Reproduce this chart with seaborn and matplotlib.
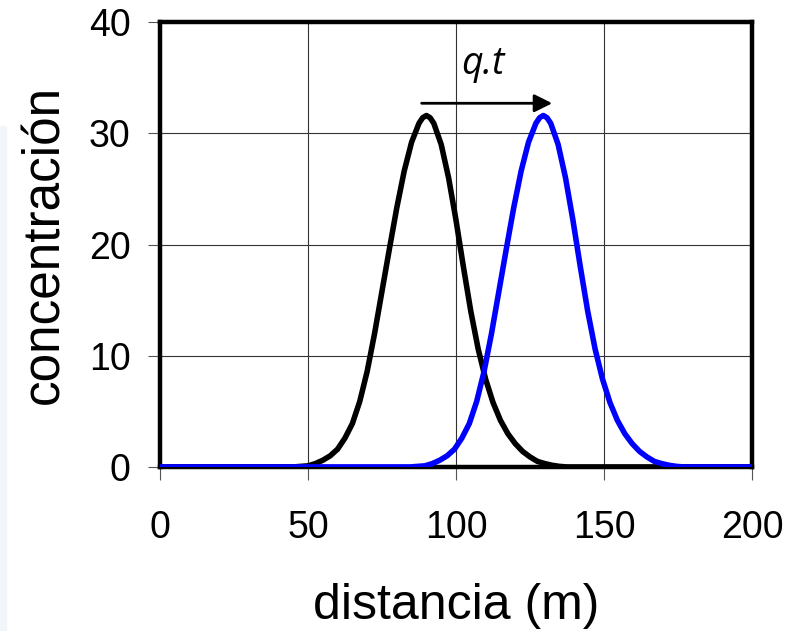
import matplotlib
matplotlib.use("Agg")
import matplotlib.pyplot as plt
import matplotlib.patches as mpatches
import pandas as pd
import seaborn as sns

# Concentration profiles (distance in m)
x_inicial = [0, 45, 47.5, 50, 52.5, 55, 57.5, 60, 62.5, 65, 67.5, 70, 72.5, 75,
             77.5, 80, 82.5, 85, 87.5, 88.75, 90, 91.25, 92.5, 95, 97.5, 100,
             102.5, 105, 107.5, 110, 112.5, 115, 117.5, 120, 122.5, 125, 127.5,
             130, 132.5, 135, 137.5, 200]
c_inicial = [0, 0, 0.05, 0.1, 0.3, 0.6, 1.0, 1.6, 2.6, 3.9, 5.9, 8.6, 12.0, 15.8,
             19.6, 23.3, 26.6, 29.2, 30.9, 31.4, 31.6, 31.4, 30.9, 29.0, 26.0, 22.2,
             18.0, 14.0, 10.6, 7.9, 5.8, 4.2, 3.0, 2.1, 1.4, 0.9, 0.5,
             0.3, 0.15, 0.05, 0, 0]

x_final = [0, 84.5, 87, 89.5, 92, 94.5, 97, 99.5, 102, 104.5, 107, 109.5, 112,
           114.5, 117, 119.5, 122, 124.5, 127, 128.25, 129.5, 130.75, 132,
           134.5, 137, 139.5, 142, 144.5, 147, 149.5, 152, 154.5, 157, 159.5,
           162, 164.5, 167, 169.5, 172, 174.5, 177, 200]
c_final = [0, 0, 0.05, 0.1, 0.3, 0.6, 1.0, 1.6, 2.6, 3.9, 5.9, 8.6, 12.0,
           15.8, 19.6, 23.3, 26.6, 29.2, 30.9, 31.4, 31.6, 31.4, 30.9,
           29.0, 26.0, 22.2, 18.0, 14.0, 10.6, 7.9, 5.8, 4.2, 3.0, 2.1,
           1.4, 0.9, 0.5, 0.3, 0.15, 0.05, 0, 0]

x_ticks = [0, 50, 100, 150, 200]
y_ticks = [0, 10, 20, 30, 40]

df_ini = pd.DataFrame({"distancia": x_inicial, "concentracion": c_inicial})
df_fin = pd.DataFrame({"distancia": x_final, "concentracion": c_final})

sns.set_theme(style="white")
plt.rcParams["font.family"] = ["Liberation Sans", "DejaVu Sans"]

fig = plt.figure(figsize=(7.9, 6.31), dpi=100)
fig.patches.append(mpatches.Rectangle((0, 0), 0.007, 0.8, transform=fig.transFigure,
                                      color="#f2f5fa", zorder=0))
ax = fig.add_axes([0.2025, 0.26, 0.7494, 0.705])

sns.lineplot(data=df_ini, x="distancia", y="concentracion", ax=ax, color="black",
             linewidth=4, sort=False, estimator=None, zorder=3)
sns.lineplot(data=df_fin, x="distancia", y="concentracion", ax=ax, color="#0000ff",
             linewidth=4, sort=False, estimator=None, zorder=4)

ax.set_xlim(0, 200)
ax.set_ylim(0, 40)
ax.set_xticks(x_ticks)
ax.set_yticks(y_ticks)
ax.grid(True, color="#333333", linewidth=0.8)
for s in ax.spines.values():
    s.set_color("black")
    s.set_linewidth(3.2)
    s.set_zorder(2.5)
ax.tick_params(axis="both", direction="out", length=9, width=0.8, color="#555555",
               labelsize=27, labelcolor="black")
ax.tick_params(axis="x", pad=22, bottom=True)
ax.tick_params(axis="y", pad=12, left=True)

ax.set_xlabel("distancia (m)", fontsize=36, color="black")
ax.set_ylabel("concentración", fontsize=37, color="black")
ax.xaxis.set_label_coords(0.5, -0.262)
ax.yaxis.set_label_coords(-0.153, 0.5)

# q.t shift arrow
ax.annotate("", xy=(132.5, 32.7), xytext=(88.4, 32.7),
            arrowprops=dict(arrowstyle="-|>,head_length=0.9,head_width=0.45",
                            color="black", lw=2, shrinkA=0, shrinkB=0), zorder=5)
ax.text(109.2, 35.3, "q.t", fontsize=27, style="italic", family="Open Sans",
        ha="center", va="baseline", color="black")

fig.savefig("out.png", dpi=100)
